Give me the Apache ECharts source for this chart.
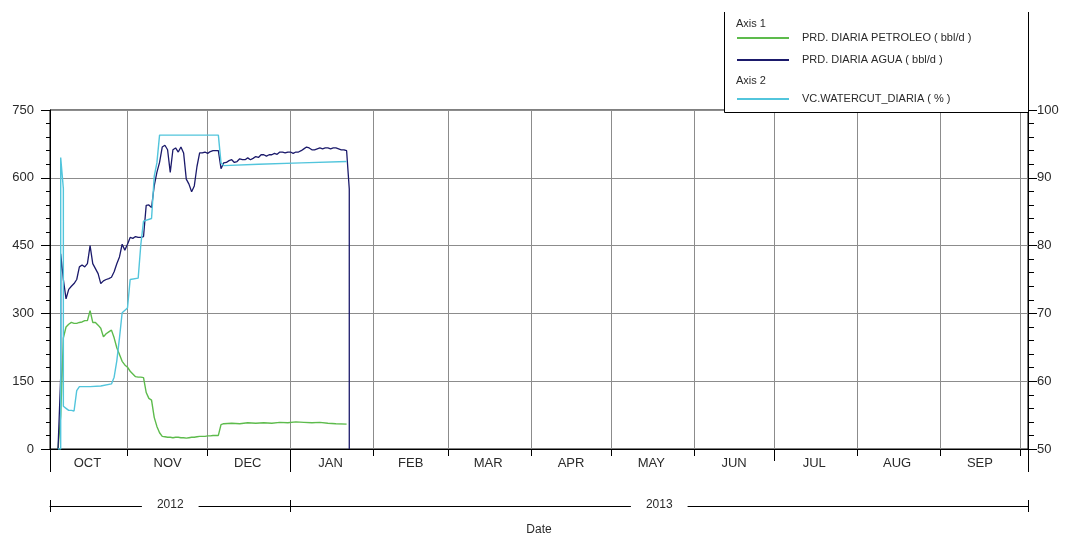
<!DOCTYPE html>
<html>
<head>
<meta charset="utf-8">
<script src="https://cdn.jsdelivr.net/npm/echarts@6/dist/echarts.min.js"></script>
<style>
  html, body { margin: 0; padding: 0; background: #fff; }
  #chart { width: 1066px; height: 541px; }
</style>
</head>
<body>
<div id="chart"></div>
<script>
// ---- axis definitions ----
const axisStart = '2012-10-03';
const axisEnd = '2013-10-04';
const monthStarts = ['2012-11-01', '2012-12-01', '2013-01-01', '2013-02-01', '2013-03-01', '2013-04-01',
                     '2013-05-01', '2013-06-01', '2013-07-01', '2013-08-01', '2013-09-01', '2013-10-01'];
const monthLabels = ['OCT', 'NOV', 'DEC', 'JAN', 'FEB', 'MAR', 'APR', 'MAY', 'JUN', 'JUL', 'AUG', 'SEP'];
const monthLabelDates = ['2012-10-17', '2012-11-16', '2012-12-16', '2013-01-16', '2013-02-15', '2013-03-16',
                         '2013-04-16', '2013-05-16', '2013-06-16', '2013-07-16', '2013-08-16', '2013-09-16'];
const longTickDates = ['2012-10-03', '2013-01-01', '2013-10-04'];
const midTickDates = ['2013-07-01'];
const yearLabels = ['2012', '2013'];
const yearLabelDates = ['2012-11-17', '2013-05-19'];
const yearBounds = ['2012-10-03', '2013-01-01', '2013-10-04'];

// ---- series: daily production (bbl/d) and watercut (%) ----
const petroleo = [
  ['2012-10-06', 0], ['2012-10-07', 73], ['2012-10-08', 246], ['2012-10-09', 270], ['2012-10-10', 276],
  ['2012-10-11', 280], ['2012-10-12', 278], ['2012-10-13', 278], ['2012-10-14', 280], ['2012-10-15', 281],
  ['2012-10-16', 284], ['2012-10-17', 284], ['2012-10-18', 306], ['2012-10-19', 280], ['2012-10-20', 280],
  ['2012-10-21', 274], ['2012-10-22', 267], ['2012-10-23', 248], ['2012-10-24', 255], ['2012-10-25', 259],
  ['2012-10-26', 263], ['2012-10-27', 246], ['2012-10-28', 224], ['2012-10-29', 209], ['2012-10-30', 194],
  ['2012-10-31', 186], ['2012-11-01', 181], ['2012-11-02', 172], ['2012-11-03', 166], ['2012-11-04', 160],
  ['2012-11-05', 159], ['2012-11-06', 159], ['2012-11-07', 158], ['2012-11-08', 125], ['2012-11-09', 112],
  ['2012-11-10', 108], ['2012-11-11', 70], ['2012-11-12', 50], ['2012-11-13', 36], ['2012-11-14', 28],
  ['2012-11-15', 27], ['2012-11-16', 26], ['2012-11-17', 26], ['2012-11-18', 25], ['2012-11-19', 26],
  ['2012-11-20', 26], ['2012-11-21', 25], ['2012-11-22', 25], ['2012-11-23', 24], ['2012-11-24', 25],
  ['2012-11-25', 26], ['2012-11-26', 26], ['2012-11-27', 27], ['2012-11-28', 28], ['2012-11-29', 28],
  ['2012-11-30', 28], ['2012-12-01', 29], ['2012-12-02', 29], ['2012-12-03', 30], ['2012-12-04', 30],
  ['2012-12-05', 30], ['2012-12-06', 54], ['2012-12-07', 56], ['2012-12-10', 57], ['2012-12-13', 56],
  ['2012-12-16', 58], ['2012-12-19', 57], ['2012-12-22', 58], ['2012-12-25', 57], ['2012-12-28', 59],
  ['2012-12-31', 58], ['2013-01-03', 60], ['2013-01-06', 59], ['2013-01-09', 58], ['2013-01-12', 59],
  ['2013-01-15', 57], ['2013-01-18', 56], ['2013-01-22', 55]
];

const agua = [
  ['2012-10-06', 0], ['2012-10-07', 160], ['2012-10-07', 432], ['2012-10-08', 375], ['2012-10-09', 332],
  ['2012-10-10', 353], ['2012-10-11', 360], ['2012-10-12', 366], ['2012-10-13', 375], ['2012-10-14', 403],
  ['2012-10-15', 407], ['2012-10-16', 403], ['2012-10-17', 410], ['2012-10-18', 450], ['2012-10-19', 410],
  ['2012-10-20', 399], ['2012-10-21', 388], ['2012-10-22', 366], ['2012-10-23', 372], ['2012-10-24', 375],
  ['2012-10-25', 377], ['2012-10-26', 380], ['2012-10-27', 392], ['2012-10-28', 410], ['2012-10-29', 425],
  ['2012-10-30', 453], ['2012-10-31', 440], ['2012-11-01', 453], ['2012-11-02', 468], ['2012-11-03', 466],
  ['2012-11-04', 470], ['2012-11-05', 468], ['2012-11-06', 468], ['2012-11-07', 470], ['2012-11-08', 539],
  ['2012-11-09', 540], ['2012-11-10', 534], ['2012-11-11', 582], ['2012-11-12', 612], ['2012-11-13', 634],
  ['2012-11-14', 668], ['2012-11-15', 672], ['2012-11-16', 662], ['2012-11-17', 612], ['2012-11-18', 662],
  ['2012-11-19', 666], ['2012-11-20', 657], ['2012-11-21', 668], ['2012-11-22', 655], ['2012-11-23', 597],
  ['2012-11-24', 586], ['2012-11-25', 569], ['2012-11-26', 582], ['2012-11-27', 625], ['2012-11-28', 655],
  ['2012-11-29', 655], ['2012-11-30', 657], ['2012-12-01', 654], ['2012-12-02', 658], ['2012-12-03', 660],
  ['2012-12-04', 660], ['2012-12-05', 660], ['2012-12-06', 620], ['2012-12-07', 633], ['2012-12-08', 634],
  ['2012-12-09', 638], ['2012-12-10', 640], ['2012-12-11', 634], ['2012-12-12', 636], ['2012-12-13', 642],
  ['2012-12-14', 640], ['2012-12-15', 640], ['2012-12-16', 644], ['2012-12-17', 640], ['2012-12-18', 643],
  ['2012-12-19', 647], ['2012-12-20', 645], ['2012-12-21', 651], ['2012-12-22', 651], ['2012-12-23', 648],
  ['2012-12-24', 651], ['2012-12-25', 651], ['2012-12-26', 654], ['2012-12-27', 652], ['2012-12-28', 657],
  ['2012-12-29', 657], ['2012-12-30', 655], ['2012-12-31', 657], ['2013-01-01', 657], ['2013-01-02', 654],
  ['2013-01-03', 657], ['2013-01-04', 657], ['2013-01-05', 660], ['2013-01-06', 664], ['2013-01-07', 668],
  ['2013-01-08', 666], ['2013-01-09', 662], ['2013-01-10', 662], ['2013-01-11', 664], ['2013-01-12', 666],
  ['2013-01-13', 664], ['2013-01-14', 666], ['2013-01-15', 666], ['2013-01-16', 664], ['2013-01-17', 666],
  ['2013-01-18', 666], ['2013-01-19', 664], ['2013-01-20', 662], ['2013-01-21', 662], ['2013-01-22', 660],
  ['2013-01-23', 575], ['2013-01-23', 0]
];

const watercut = [
  ['2012-10-06', 50], ['2012-10-07', 50], ['2012-10-07', 93.0], ['2012-10-08', 88.4], ['2012-10-08', 56.3],
  ['2012-10-09', 56.0], ['2012-10-10', 55.7], ['2012-10-11', 55.7], ['2012-10-12', 55.6], ['2012-10-13', 58.6],
  ['2012-10-14', 59.2], ['2012-10-18', 59.2], ['2012-10-22', 59.3], ['2012-10-26', 59.6], ['2012-10-27', 60.6],
  ['2012-10-28', 63.0], ['2012-10-29', 66.4], ['2012-10-30', 70.1], ['2012-11-01', 70.8], ['2012-11-02', 75.0],
  ['2012-11-05', 75.2], ['2012-11-06', 80.2], ['2012-11-07', 83.6], ['2012-11-10', 84.0], ['2012-11-11', 90.2],
  ['2012-11-12', 92.2], ['2012-11-13', 96.3], ['2012-12-05', 96.3], ['2012-12-06', 92.2], ['2012-12-07', 91.8],
  ['2012-12-20', 92.0], ['2013-01-05', 92.2], ['2013-01-22', 92.4]
];

const seriesNames = ['PRD. DIARIA PETROLEO ( bbl/d )', 'PRD. DIARIA AGUA ( bbl/d )', 'VC.WATERCUT_DIARIA ( % )'];
const seriesColors = ['#5dbb4c', '#1b1a6b', '#52c5dc'];

// ---- helpers ----
const FONT = '"Liberation Sans", Arial, sans-serif';
const TEXT = '#2a2a2a';
const ts = s => { const p = s.split('-').map(Number); return Date.UTC(p[0], p[1] - 1, p[2]); };
const toPoints = arr => arr.map(d => [ts(d[0]), d[1]]);
const labelFor = (dates, labels) => v => {
  let best = 0, bd = Infinity;
  dates.forEach((d, i) => { const dd = Math.abs(ts(d) - v); if (dd < bd) { bd = dd; best = i; } });
  return labels[best];
};
const xMin = ts(axisStart), xMax = ts(axisEnd);

const baseX = {
  type: 'value', min: xMin, max: xMax, position: 'bottom', gridIndex: 0,
  axisLine: { show: false }, axisLabel: { show: false }, splitLine: { show: false }
};

const option = {
  animation: false,
  textStyle: { fontFamily: FONT },
  grid: { left: 50, top: 110, width: 978, height: 347, show: true, borderColor: '#000', borderWidth: 1,
          backgroundColor: 'transparent' },
  xAxis: [
    { // months: ticks at month boundaries, names centred in each month
      type: 'value', min: xMin, max: xMax, position: 'bottom',
      axisLine: { show: true, lineStyle: { color: '#000', width: 1 } },
      axisTick: { show: true, customValues: monthStarts.map(ts), length: 7, lineStyle: { color: '#000' } },
      axisLabel: { customValues: monthLabelDates.map(ts), formatter: labelFor(monthLabelDates, monthLabels),
                   fontSize: 13, color: TEXT, margin: 8, fontFamily: FONT },
      splitLine: { show: true, lineStyle: { color: '#8c8c8c', width: 1 } }
    },
    Object.assign({}, baseX, { // long ticks at period ends and year change
      axisTick: { show: true, customValues: longTickDates.map(ts), length: 23, lineStyle: { color: '#000' } }
    }),
    Object.assign({}, baseX, { // half-year tick
      axisTick: { show: true, customValues: midTickDates.map(ts), length: 12, lineStyle: { color: '#000' } }
    }),
    { // year bracket, lower half of end caps and year names
      type: 'value', min: xMin, max: xMax, position: 'bottom', offset: 57,
      name: 'Date', nameLocation: 'middle', nameGap: 18,
      nameTextStyle: { fontSize: 12, color: TEXT, fontFamily: FONT },
      axisLine: { show: true, lineStyle: { color: '#000', width: 1 } },
      axisTick: { show: true, customValues: yearBounds.map(ts), length: 6, lineStyle: { color: '#000' } },
      axisLabel: { customValues: yearLabelDates.map(ts), formatter: labelFor(yearLabelDates, yearLabels),
                   fontSize: 12, color: TEXT, margin: -8, backgroundColor: '#fff', padding: [1, 15],
                   fontFamily: FONT },
      splitLine: { show: false }
    },
    Object.assign({}, baseX, { // year bracket, upper half of end caps
      offset: 57,
      axisTick: { show: true, inside: true, customValues: yearBounds.map(ts), length: 6, lineStyle: { color: '#000' } }
    })
  ],
  yAxis: [
    {
      type: 'value', min: 0, max: 750, interval: 150, position: 'left',
      axisLine: { show: true, lineStyle: { color: '#000' } },
      axisTick: { show: true, length: 9, lineStyle: { color: '#000' } },
      minorTick: { show: true, splitNumber: 5, length: 4, lineStyle: { color: '#000' } },
      axisLabel: { fontSize: 13, color: TEXT, margin: 16, fontFamily: FONT },
      splitLine: { show: true, lineStyle: { color: '#8c8c8c', width: 1 } }
    },
    {
      type: 'value', min: 50, max: 100, interval: 10, position: 'right',
      axisLine: { show: true, lineStyle: { color: '#000' } },
      axisTick: { show: true, length: 9, lineStyle: { color: '#000' } },
      minorTick: { show: true, splitNumber: 5, length: 6, lineStyle: { color: '#000' } },
      axisLabel: { fontSize: 13, color: TEXT, margin: 9, fontFamily: FONT },
      splitLine: { show: false }
    }
  ],
  legend: [
    {
      data: [seriesNames[0], seriesNames[1]], left: 737, top: 31, orient: 'vertical',
      icon: 'rect', itemWidth: 52, itemHeight: 2, itemGap: 8, padding: 0, selectedMode: false, z: 60,
      textStyle: { fontSize: 11, color: TEXT, fontFamily: FONT, lineHeight: 14, padding: [0, 0, 0, 8] }
    },
    {
      data: [seriesNames[2]], left: 737, top: 92, orient: 'vertical',
      icon: 'rect', itemWidth: 52, itemHeight: 2, padding: 0, selectedMode: false, z: 60,
      textStyle: { fontSize: 11, color: TEXT, fontFamily: FONT, lineHeight: 14, padding: [0, 0, 0, 8] }
    }
  ],
  graphic: [
    { type: 'rect', z: 50, shape: { x: 724, y: 0, width: 304, height: 112 }, style: { fill: '#fff' } },
    { type: 'polyline', z: 51, shape: { points: [[724.5, 12], [724.5, 112.5], [1028.5, 112.5], [1028.5, 12]] },
      style: { stroke: '#000', lineWidth: 1, fill: null } },
    { type: 'text', z: 52, left: 736, top: 18, style: { text: 'Axis 1', fontSize: 11, fill: TEXT, fontFamily: FONT } },
    { type: 'text', z: 52, left: 736, top: 75, style: { text: 'Axis 2', fontSize: 11, fill: TEXT, fontFamily: FONT } }
  ],
  series: [
    { name: seriesNames[0], type: 'line', xAxisIndex: 0, yAxisIndex: 0, data: toPoints(petroleo),
      showSymbol: false, color: seriesColors[0], lineStyle: { width: 1.4 } },
    { name: seriesNames[1], type: 'line', xAxisIndex: 0, yAxisIndex: 0, data: toPoints(agua),
      showSymbol: false, color: seriesColors[1], lineStyle: { width: 1.3 } },
    { name: seriesNames[2], type: 'line', xAxisIndex: 0, yAxisIndex: 1, data: toPoints(watercut),
      showSymbol: false, color: seriesColors[2], lineStyle: { width: 1.4 } }
  ]
};

const chart = echarts.init(document.getElementById('chart'), null, { renderer: 'canvas' });
chart.setOption(option);
</script>
</body>
</html>
